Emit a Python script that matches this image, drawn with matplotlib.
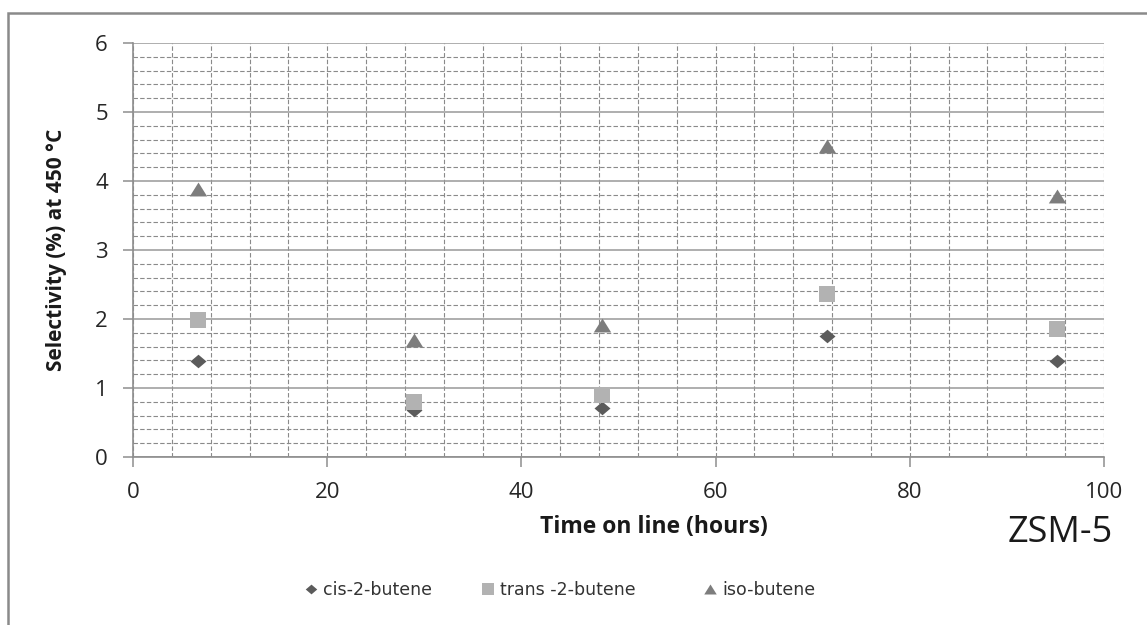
import matplotlib
matplotlib.use("Agg")
import matplotlib.pyplot as plt
from matplotlib.ticker import MultipleLocator
from matplotlib.patches import Rectangle
from matplotlib.lines import Line2D

# Time on line (hours) and selectivity (%) at 450 °C for each butene isomer
time_h = [6.7, 28.9, 48.3, 71.5, 95.2]
cis_2_butene = [1.39, 0.68, 0.71, 1.75, 1.39]
trans_2_butene = [1.99, 0.79, 0.90, 2.36, 1.86]
iso_butene = [3.89, 1.70, 1.91, 4.51, 3.78]

series_names = ["cis-2-butene", "trans -2-butene", "iso-butene"]
x_ticks = [0, 20, 40, 60, 80, 100]
y_ticks = [0, 1, 2, 3, 4, 5, 6]

plt.rcParams["font.family"] = ["Open Sans", "DejaVu Sans"]

W, H = 1147, 625
fig = plt.figure(figsize=(W / 100, H / 100), dpi=100)
ax = fig.add_axes([133 / W, 1 - 457 / H, (1104 - 133) / W, (457 - 43) / H])

# squat marker shapes
diamond = [(0, 0.85), (1, 0), (0, -0.85), (-1, 0), (0, 0.85)]
triangle = [(0, 0.8), (1, -0.8), (-1, -0.8), (0, 0.8)]

styles = [
    dict(marker=diamond, color="#5b5b5b", ms=11.5),
    dict(marker="s", color="#b2b2b2", ms=11.5),
    dict(marker=triangle, color="#7d7d7d", ms=12.5),
]
values = [cis_2_butene, trans_2_butene, iso_butene]
for name, vals, st in zip(series_names, values, styles):
    ax.plot(time_h, vals, linestyle="none", marker=st["marker"], color=st["color"],
            markersize=st["ms"], markeredgewidth=0, label=name, zorder=5)

ax.set_xlim(0, 100)
ax.set_ylim(0, 6)
ax.set_xticks(x_ticks)
ax.set_yticks(y_ticks)
ax.xaxis.set_minor_locator(MultipleLocator(4))
ax.yaxis.set_minor_locator(MultipleLocator(0.2))
ax.xaxis.remove_overlapping_locs = False

grid_c = "#8a8a8a"
ax.grid(False)
ax.yaxis.grid(True, which="major", color="#999999", linewidth=1.1, linestyle="-")
ax.yaxis.grid(True, which="minor", color=grid_c, linewidth=0.8, linestyle=(0, (4, 2)))
ax.xaxis.grid(True, which="minor", color=grid_c, linewidth=0.8, linestyle=(0, (4, 2)))
ax.set_axisbelow(True)

for s in ["top", "right"]:
    ax.spines[s].set_visible(False)
for s in ["left", "bottom"]:
    ax.spines[s].set_color("#8e8e8e")
    ax.spines[s].set_linewidth(1.2)

ax.tick_params(axis="both", which="major", direction="out", length=7, width=1.1,
               color="#8e8e8e", labelsize=16, labelcolor="#262626", pad=11)
ax.tick_params(axis="both", which="minor", length=0)

ax.set_xlabel("Time on line (hours)", fontsize=16.5, fontweight="bold", color="#1a1a1a")
ax.xaxis.set_label_coords((654 - 133) / (1104 - 133), -(515 - 457) / (457 - 43))
ax.set_ylabel("Selectivity (%) at 450 °C", fontsize=15, fontweight="bold", color="#1a1a1a")
ax.yaxis.set_label_coords(-(133 - 67) / (1104 - 133), 0.5)

fig.text(1113 / W, 1 - 533 / H, "ZSM-5", ha="right", va="center",
         fontsize=26, color="#1a1a1a")

# legend entries along the bottom
legend_x = [305, 482, 704]
legend_font = {"family": ["Liberation Sans Narrow", "DejaVu Sans"], "size": 12.5}
for name, st, lx in zip(series_names, styles, legend_x):
    h = Line2D([], [], linestyle="none", marker=st["marker"], color=st["color"],
               markersize=st["ms"] * 0.72, markeredgewidth=0)
    leg = fig.legend([h], [name], loc="center left", bbox_to_anchor=(lx / W, 1 - 590 / H),
                     frameon=False, handlelength=0.7, handletextpad=0.35,
                     borderpad=0, borderaxespad=0, prop=legend_font)
    for t in leg.get_texts():
        t.set_color("#333333")

# chart area border
fig.patches.append(Rectangle((8 / W, -0.2), 1.2, 1.2 - 13 / H,
                             transform=fig.transFigure, fill=False,
                             edgecolor="#8a8a8a", linewidth=1.8))

fig.savefig("out.png", dpi=100)
